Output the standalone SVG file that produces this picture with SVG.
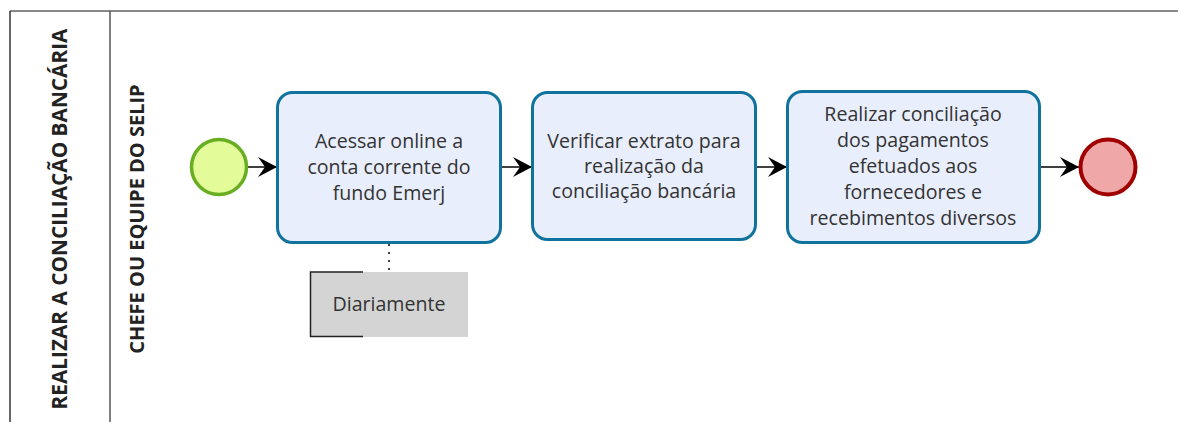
<svg xmlns="http://www.w3.org/2000/svg" width="1178" height="422" viewBox="0 0 1178 422">
<style>
.t{font-family:"Open Sans","Noto Sans","DejaVu Sans",sans-serif;font-size:19.6px;fill:#333;text-anchor:middle}
.lb{font-family:"Open Sans","Noto Sans","DejaVu Sans",sans-serif;font-weight:bold;fill:#222;text-anchor:middle}
.task{fill:#e9eefc;stroke:#10739e;stroke-width:3}
.flow{stroke:#000;stroke-width:1.5;fill:none;marker-end:url(#arr)}
</style>
<defs>
<marker id="arr" markerUnits="userSpaceOnUse" markerWidth="24" markerHeight="24" viewBox="-21 -12 24 24" refX="0" refY="0" orient="auto">
<path d="M0,0 L-19,-10 L-12,0 L-19,10 Z" fill="#000"/>
</marker>
</defs>
<g id="pool">
<line x1="10" y1="11" x2="1178" y2="11" stroke="#888" stroke-width="2"/>
<line x1="10" y1="11" x2="10" y2="422" stroke="#333" stroke-width="1.5"/>
<line x1="110" y1="11" x2="110" y2="422" stroke="#555" stroke-width="1.5"/>
<text class="lb" style="font-size:20.8px" transform="translate(67,219) rotate(-90)">REALIZAR A CONCILIAÇÃO BANCÁRIA</text>
<text class="lb" style="font-size:20px" transform="translate(144,219) rotate(-90)">CHEFE OU EQUIPE DO SELIP</text>
</g>
<g id="connectors">
<line class="flow" x1="248" y1="167" x2="277" y2="167"/>
<line class="flow" x1="501" y1="167" x2="532" y2="167"/>
<line class="flow" x1="756" y1="167" x2="787" y2="167"/>
<line class="flow" x1="1040" y1="167" x2="1079" y2="167"/>
<line x1="389" y1="244" x2="389" y2="272" stroke="#000" stroke-width="1.5" stroke-dasharray="2,6"/>
</g>
<g id="start">
<circle cx="219" cy="167" r="27.5" fill="#e4fb99" stroke="#68ae22" stroke-width="3.5"/>
</g>
<g id="task1">
<rect class="task" x="277.5" y="92.5" width="223" height="150" rx="15"/>
<text class="t" x="389" y="148">Acessar online a</text>
<text class="t" x="389" y="174">conta corrente do</text>
<text class="t" x="389" y="200">fundo Emerj</text>
</g>
<g id="task2">
<rect class="task" x="532.5" y="92.5" width="223" height="147" rx="15"/>
<text class="t" x="644" y="148">Verificar extrato para</text>
<text class="t" x="644" y="173">realização da</text>
<text class="t" x="644" y="198">conciliação bancária</text>
</g>
<g id="task3">
<rect class="task" x="787.5" y="91.5" width="252" height="151" rx="15"/>
<text class="t" x="913" y="121">Realizar conciliação</text>
<text class="t" x="913" y="147">dos pagamentos</text>
<text class="t" x="913" y="173">efetuados aos</text>
<text class="t" x="913" y="199">fornecedores e</text>
<text class="t" x="913" y="225">recebimentos diversos</text>
</g>
<g id="end">
<circle cx="1108" cy="167" r="27.5" fill="#efa7a7" stroke="#a00000" stroke-width="4"/>
</g>
<g id="annotation">
<rect x="310" y="272" width="158" height="65" fill="#d4d4d4"/>
<path d="M363,272 H310.5 V336.5 H363" fill="none" stroke="#222" stroke-width="1.5"/>
<text class="t" x="389" y="311">Diariamente</text>
</g>
</svg>
